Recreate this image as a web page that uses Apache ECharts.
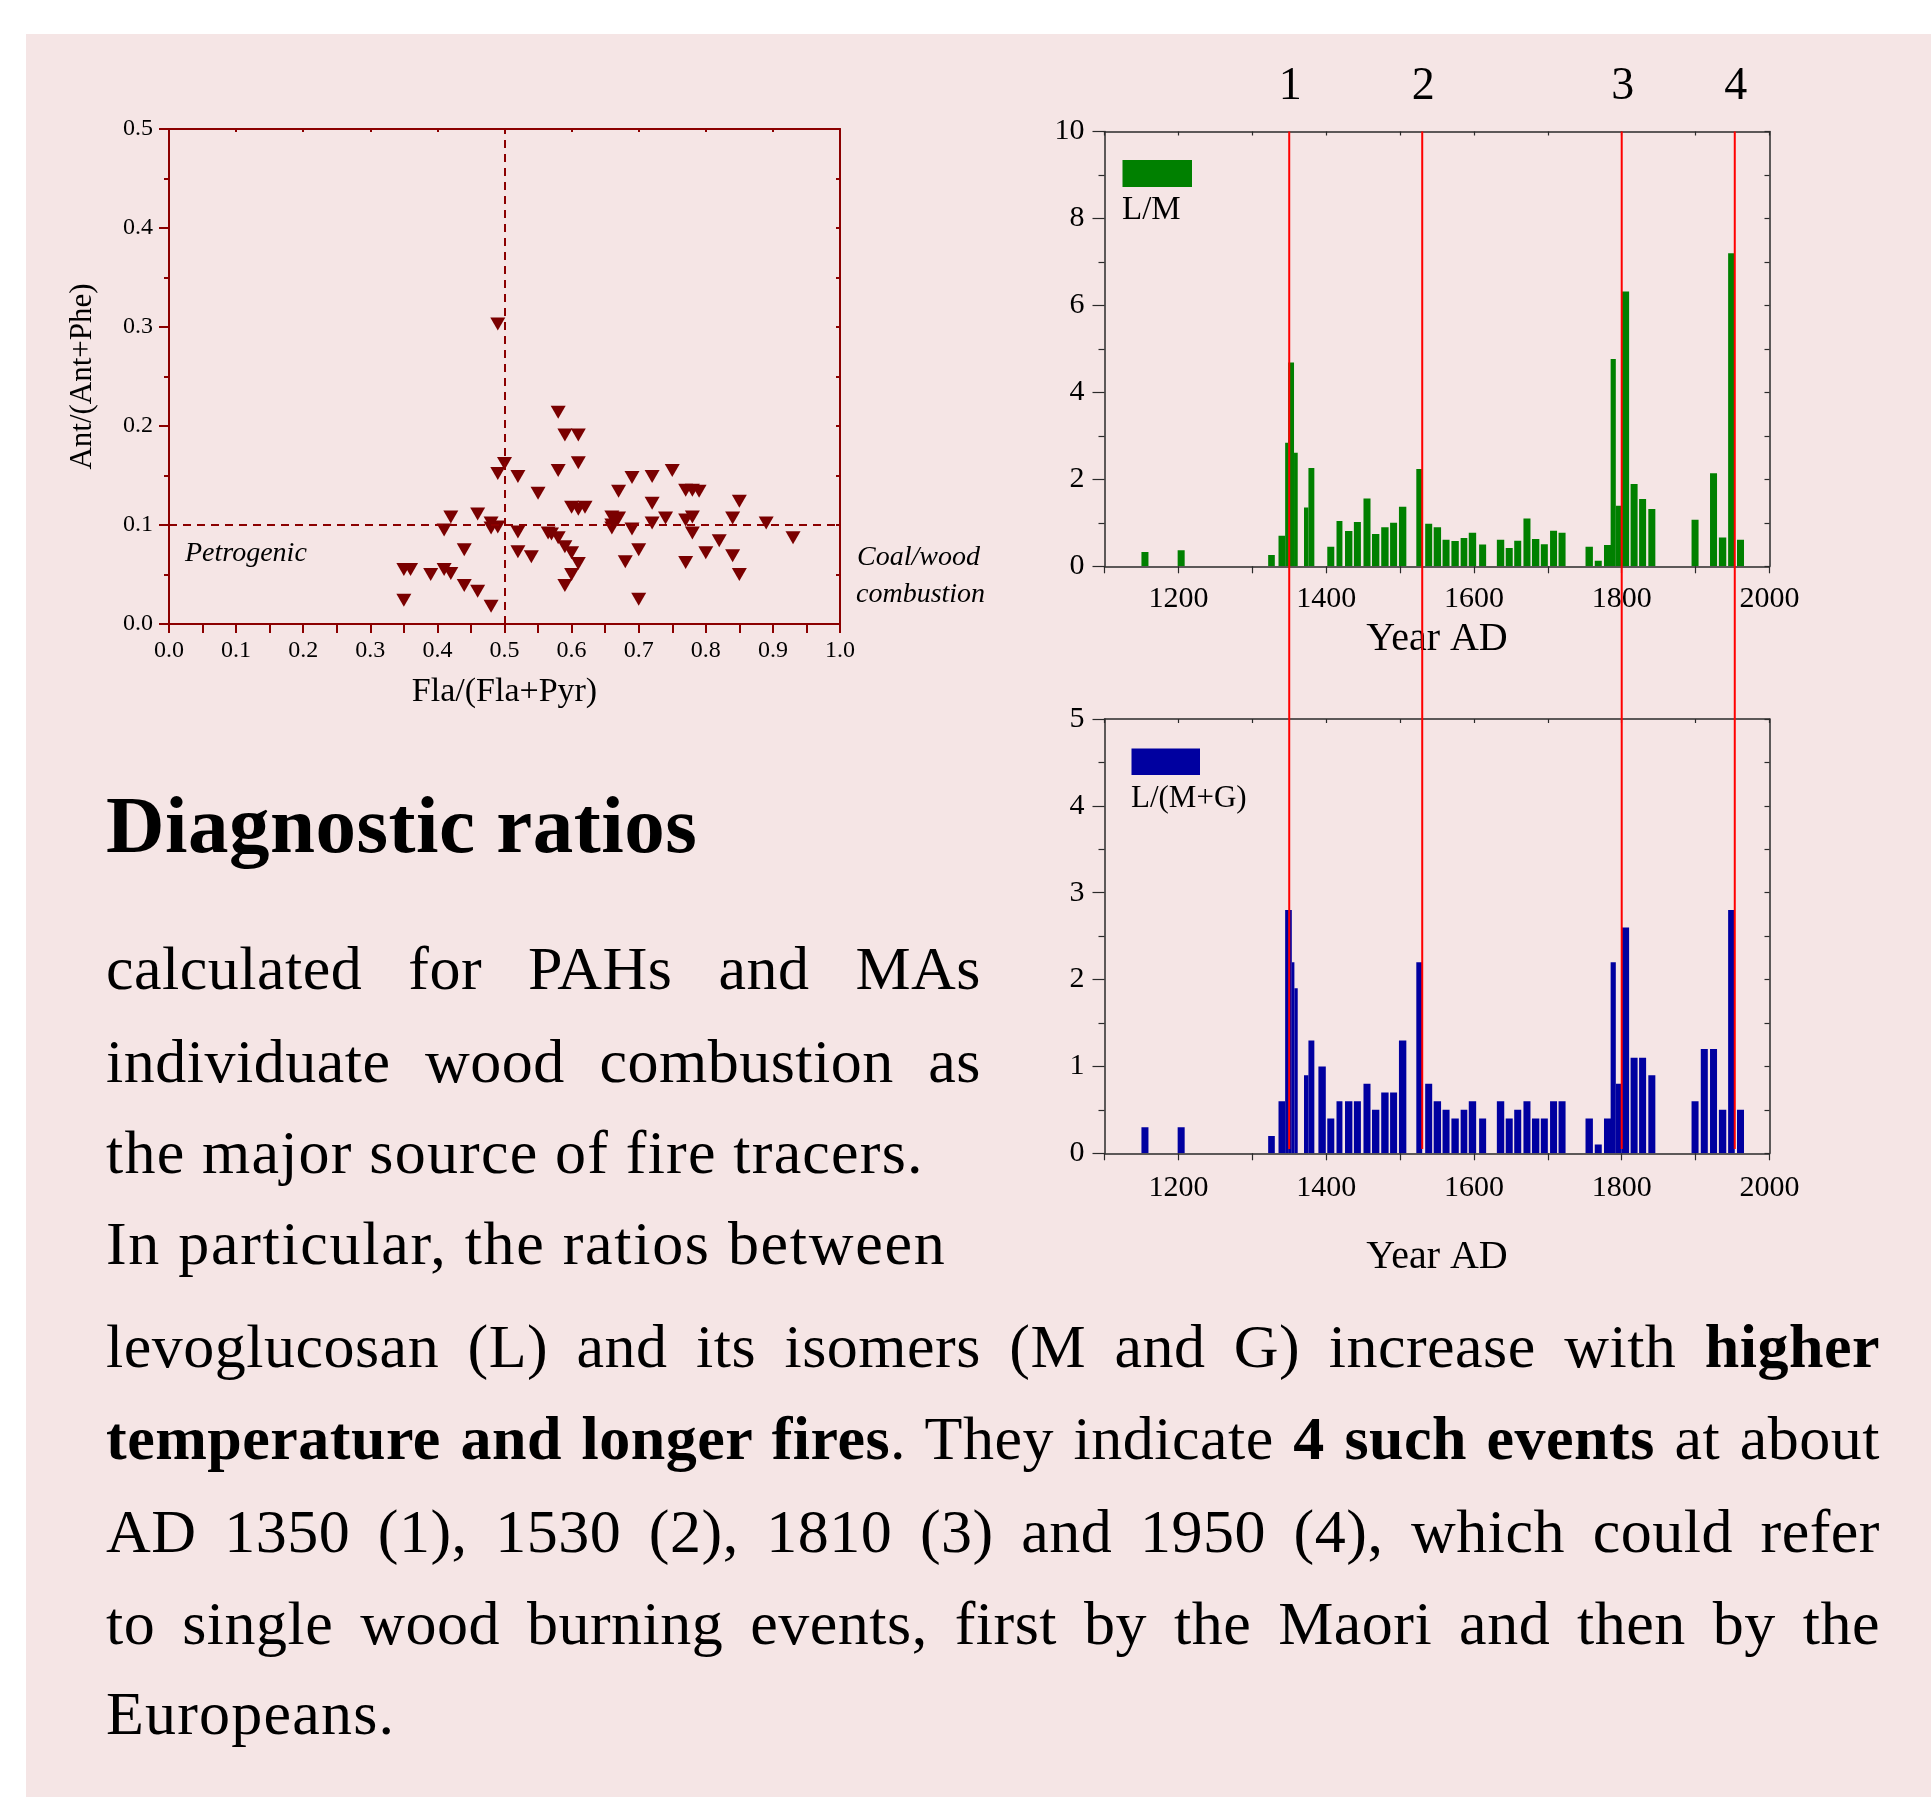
<!DOCTYPE html>
<html>
<head>
<meta charset="utf-8">
<script src="https://cdn.jsdelivr.net/npm/echarts@6/dist/echarts.min.js"></script>
<style>
  html, body { margin: 0; padding: 0; background: #ffffff; }
  #panel { position: absolute; left: 26px; top: 34px; right: 0; bottom: 0; background: #F5E5E5; }
  #chart { position: absolute; left: 0; top: 0; width: 1931px; height: 1797px; }
  .ln { position: absolute; left: 106px; font-family: 'Liberation Serif', 'Times New Roman', serif;
        font-size: 62px; line-height: 62px; color: #000; white-space: nowrap; letter-spacing: 0.5px; }
  .j { text-align: justify; text-align-last: justify; white-space: normal; }
  .free { letter-spacing: 1.2px; }
  .free2 { letter-spacing: 1.7px; }
  .h { font-size: 81px; line-height: 81px; font-weight: bold; letter-spacing: 0.5px; }
</style>
</head>
<body>
<div id="panel"></div>
<div id="chart"></div>
<div class="ln h" style="top:785px;">Diagnostic ratios</div>
<div class="ln j" style="top:937px;width:875px;">calculated for PAHs and MAs</div>
<div class="ln j" style="top:1030px;width:875px;">individuate wood combustion as</div>
<div class="ln free" style="top:1121px;">the major source of fire tracers.</div>
<div class="ln free2" style="top:1212px;">In particular, the ratios between</div>
<div class="ln j" style="top:1315px;width:1774px;">levoglucosan (L) and its isomers (M and G) increase with <b>higher</b></div>
<div class="ln j" style="top:1407px;width:1774px;"><b>temperature and longer fires</b>. They indicate <b>4 such events</b> at about</div>
<div class="ln j" style="top:1500px;width:1774px;">AD 1350 (1), 1530 (2), 1810 (3) and 1950 (4), which could refer</div>
<div class="ln j" style="top:1592px;width:1774px;">to single wood burning events, first by the Maori and then by the</div>
<div class="ln free" style="top:1682px;">Europeans.</div>
<script>
// ---------------- data ----------------
const scatterX = [0.58,0.59,0.61,0.61,0.58,0.50,0.49,0.52,0.55,0.67,0.69,0.72,0.75,0.77,0.78,0.79,0.72,0.85,
  0.60,0.61,0.62,0.66,0.67,0.66,0.66,0.69,0.72,0.74,0.77,0.78,0.78,0.84,0.89,0.93,0.82,0.80,0.84,0.85,0.77,
  0.70,0.68,0.70,0.42,0.41,0.46,0.48,0.48,0.49,0.52,0.44,0.52,0.54,0.57,0.58,0.59,0.60,0.61,0.60,0.59,0.35,
  0.36,0.39,0.41,0.42,0.44,0.46,0.48,0.35,0.49,0.665,0.565];
const scatterY = [0.214,0.191,0.191,0.163,0.155,0.162,0.152,0.149,0.132,0.134,0.148,0.149,0.155,0.135,0.135,
  0.134,0.122,0.124,0.118,0.116,0.118,0.108,0.107,0.100,0.097,0.096,0.102,0.107,0.105,0.108,0.092,0.107,0.102,
  0.087,0.084,0.072,0.069,0.050,0.062,0.075,0.063,0.025,0.108,0.095,0.111,0.102,0.097,0.098,0.093,0.075,0.073,
  0.068,0.091,0.087,0.078,0.072,0.061,0.050,0.039,0.055,0.055,0.050,0.055,0.051,0.039,0.033,0.018,0.024,0.303,
  0.104,0.092];

// L/M : sample age intervals (year AD) and ratio
const lmFrom = [1150,1199,1321.5,1335.5,1344.5,1348.5,1356.5,1370,1376,1401.5,1414,1425.5,1437.5,1450.5,1462,
  1474.5,1486.5,1498.5,1522,1534,1545.5,1557.5,1569.5,1582,1593,1607,1631,1643,1654.5,1667,1678.5,1690.5,1703,
  1714.5,1751,1763.5,1776,1785,1792,1800,1812,1823.5,1836,1894.5,1919.5,1931.5,1944,1956];
const lmTo = [1159.5,1208.5,1330.5,1344.5,1348.5,1356.5,1361.5,1376,1384,1411,1422,1435.5,1447,1460,1472,
  1484.5,1496,1508.5,1530,1543.5,1555.5,1567,1579.5,1591,1603,1616.5,1641,1652.5,1664,1676.5,1688.5,1700,1712.5,
  1724,1761,1773,1785.5,1792,1800,1810,1821.5,1833,1845.5,1904,1929,1941.5,1953,1965.5];
const lmValue = [0.33,0.37,0.26,0.70,2.84,4.69,2.61,1.35,2.26,0.45,1.04,0.81,1.02,1.56,0.74,0.90,1.00,1.37,
  2.24,0.98,0.90,0.61,0.58,0.65,0.77,0.50,0.61,0.42,0.59,1.10,0.63,0.51,0.82,0.77,0.45,0.13,0.49,4.77,1.39,
  6.32,1.89,1.55,1.32,1.07,2.14,0.66,7.20,0.61];

// L/(M+G)
const lmgFrom = [1150,1199,1321.5,1335.5,1344.5,1348.5,1353.5,1357,1370,1376,1389.5,1401.5,1414,1425.5,1437.5,
  1450.5,1462,1474.5,1486.5,1498.5,1522,1534,1545.5,1557.5,1569.5,1582,1593,1607,1631,1643,1654.5,1667,1678.5,
  1690.5,1703,1714.5,1751,1763.5,1776,1785,1792,1800,1812,1823.5,1836,1894.5,1907,1919.5,1931.5,1944,1956];
const lmgTo = [1159.5,1208.5,1330.5,1344.5,1348.5,1353.5,1357,1361.5,1376,1384,1399.5,1411,1422,1435.5,1447,
  1460,1472,1484.5,1496,1508.5,1530,1543.5,1555.5,1567,1579.5,1591,1603,1616.5,1641,1652.5,1664,1676.5,1688.5,
  1700,1712.5,1724,1761,1773,1785.5,1792,1800,1810,1821.5,1833,1845.5,1904,1916.5,1929,1941.5,1953,1965.5];
const lmgValue = [0.30,0.30,0.20,0.60,2.80,2.80,2.20,1.90,0.90,1.30,1.00,0.40,0.60,0.60,0.60,0.80,0.50,0.70,
  0.70,1.30,2.20,0.80,0.60,0.50,0.40,0.50,0.60,0.40,0.60,0.40,0.50,0.60,0.40,0.40,0.60,0.60,0.40,0.10,0.40,
  2.20,0.80,2.60,1.10,1.10,0.90,0.60,1.20,1.20,0.50,2.80,0.50];

const eventYears = [1350, 1530, 1800, 1953];
const eventLabels = ['1', '2', '3', '4'];

const lmTicksMax = 10, lmgTicksMax = 5;

// ---------------- chart ----------------
const FONT = "'Liberation Serif', 'Times New Roman', serif";
const DR = '#8B0000';
const PT = '#7A0000';
const AX = '#2a2a2a';
const chart = echarts.init(document.getElementById('chart'), null, { renderer: 'canvas' });

function zip3(a, b, c) { return a.map((v, i) => [v, b[i], c[i]]); }

function barItem(color) {
  return function (params, api) {
    const p0 = api.coord([api.value(0), api.value(2)]);
    const p1 = api.coord([api.value(1), 0]);
    return {
      type: 'rect',
      shape: { x: p0[0], y: p0[1], width: p1[0] - p0[0], height: p1[1] - p0[1] },
      style: { fill: color }
    };
  };
}

const labelStyle = { fontFamily: FONT, color: '#000' };

function yearAxis(grid, margin, nameGap) {
  return {
    gridIndex: grid, type: 'value', min: 1100, max: 2000, interval: 100, position: 'bottom',
    axisLine: { onZero: false, lineStyle: { color: AX, width: 1.5 } },
    axisTick: { length: 7, lineStyle: { color: AX, width: 1.2 } },
    axisLabel: Object.assign({ fontSize: 30, margin: margin, formatter: v => (v % 200 === 0 ? String(v) : '') }, labelStyle),
    splitLine: { show: false },
    name: 'Year AD', nameLocation: 'middle', nameGap: nameGap,
    nameTextStyle: { fontFamily: FONT, fontSize: 40, color: '#000' }
  };
}
function yearAxisTop(grid) {
  return {
    gridIndex: grid, type: 'value', min: 1100, max: 2000, interval: 100, position: 'top',
    axisLine: { onZero: false, lineStyle: { color: AX, width: 1.5 } },
    axisTick: { inside: true, length: 4, lineStyle: { color: AX, width: 1.2 } },
    axisLabel: { show: false }, splitLine: { show: false }
  };
}

const option = {
  animation: false,
  backgroundColor: 'transparent',
  grid: [
    { left: 169, top: 129, width: 671, height: 495, outerBoundsMode: 'none' },
    { left: 1104.5, top: 131.5, width: 665, height: 434.8, outerBoundsMode: 'none' },
    { left: 1104.5, top: 719, width: 665, height: 434.3, outerBoundsMode: 'none' },
    { left: 1104.5, top: 131.5, width: 665, height: 1017.5, outerBoundsMode: 'none' }
  ],
  xAxis: [
    {
      gridIndex: 0, type: 'value', min: 0, max: 1, interval: 0.1, position: 'bottom',
      axisLine: { onZero: false, lineStyle: { color: DR, width: 2 } },
      axisTick: { length: 9, lineStyle: { color: DR, width: 2 } },
      minorTick: { show: true, splitNumber: 2, length: 9, lineStyle: { color: DR, width: 2 } },
      axisLabel: Object.assign({ fontSize: 24, margin: 15, formatter: v => v.toFixed(1) }, labelStyle),
      splitLine: { show: false }, minorSplitLine: { show: false },
      name: 'Fla/(Fla+Pyr)', nameLocation: 'middle', nameGap: 51,
      nameTextStyle: { fontFamily: FONT, fontSize: 34, color: '#000' }
    },
    {
      gridIndex: 0, type: 'value', min: 0, max: 1, interval: 0.1, position: 'top',
      axisLine: { onZero: false, lineStyle: { color: DR, width: 2 } },
      axisTick: { inside: true, length: 3, lineStyle: { color: DR, width: 2 } },
      axisLabel: { show: false }, splitLine: { show: false }
    },
    yearAxis(1, 18, 53),
    yearAxisTop(1),
    yearAxis(2, 20, 84),
    yearAxisTop(2),
    { gridIndex: 3, type: 'value', min: 1100, max: 2000, show: false }
  ],
  yAxis: [
    {
      gridIndex: 0, type: 'value', min: 0, max: 0.5, interval: 0.1, position: 'left',
      axisLine: { onZero: false, lineStyle: { color: DR, width: 2 } },
      axisTick: { length: 10, lineStyle: { color: DR, width: 2 } },
      minorTick: { show: true, splitNumber: 2, length: 5, lineStyle: { color: DR, width: 2 } },
      axisLabel: Object.assign({ fontSize: 24, margin: 16, formatter: v => v.toFixed(1) }, labelStyle),
      splitLine: { show: false }, minorSplitLine: { show: false },
      name: 'Ant/(Ant+Phe)', nameLocation: 'middle', nameGap: 71, nameRotate: 90,
      nameTextStyle: { fontFamily: FONT, fontSize: 31, color: '#000' }
    },
    {
      gridIndex: 0, type: 'value', min: 0, max: 0.5, interval: 0.05, position: 'right',
      axisLine: { onZero: false, lineStyle: { color: DR, width: 2 } },
      axisTick: { inside: true, length: 4, lineStyle: { color: DR, width: 2 } },
      axisLabel: { show: false }, splitLine: { show: false }
    },
    {
      gridIndex: 1, type: 'value', min: 0, max: lmTicksMax, interval: 2, position: 'left',
      axisLine: { onZero: false, lineStyle: { color: AX, width: 1.5 } },
      axisTick: { length: 12, lineStyle: { color: AX, width: 1.2 } },
      minorTick: { show: true, splitNumber: 2, length: 6, lineStyle: { color: AX, width: 1.2 } },
      axisLabel: Object.assign({ fontSize: 30, margin: 20 }, labelStyle),
      splitLine: { show: false }, minorSplitLine: { show: false }
    },
    {
      gridIndex: 1, type: 'value', min: 0, max: lmTicksMax, interval: 1, position: 'right',
      axisLine: { onZero: false, lineStyle: { color: AX, width: 1.5 } },
      axisTick: { inside: true, length: 5, lineStyle: { color: AX, width: 1.2 } },
      axisLabel: { show: false }, splitLine: { show: false }
    },
    {
      gridIndex: 2, type: 'value', min: 0, max: lmgTicksMax, interval: 1, position: 'left',
      axisLine: { onZero: false, lineStyle: { color: AX, width: 1.5 } },
      axisTick: { length: 12, lineStyle: { color: AX, width: 1.2 } },
      minorTick: { show: true, splitNumber: 2, length: 6, lineStyle: { color: AX, width: 1.2 } },
      axisLabel: Object.assign({ fontSize: 30, margin: 20 }, labelStyle),
      splitLine: { show: false }, minorSplitLine: { show: false }
    },
    {
      gridIndex: 2, type: 'value', min: 0, max: lmgTicksMax, interval: 0.5, position: 'right',
      axisLine: { onZero: false, lineStyle: { color: AX, width: 1.5 } },
      axisTick: { inside: true, length: 5, lineStyle: { color: AX, width: 1.2 } },
      axisLabel: { show: false }, splitLine: { show: false }
    },
    { gridIndex: 3, type: 'value', min: 0, max: 1, show: false }
  ],
  series: [
    {
      name: 'Diagnostic ratio', type: 'scatter', xAxisIndex: 0, yAxisIndex: 0,
      data: scatterX.map((x, i) => [x, scatterY[i]]),
      symbol: 'triangle', symbolRotate: 180, symbolSize: [15, 13],
      itemStyle: { color: PT, opacity: 1 },
      markLine: {
        silent: true, symbol: 'none', animation: false,
        label: { show: false },
        lineStyle: { color: DR, width: 2, type: [8, 6] },
        data: [{ xAxis: 0.5 }, { yAxis: 0.1 }]
      },
      z: 3
    },
    {
      name: 'L/M', type: 'custom', xAxisIndex: 2, yAxisIndex: 2,
      data: zip3(lmFrom, lmTo, lmValue), encode: { x: [0, 1], y: 2 },
      renderItem: barItem('#008000'), clip: true, z: 2
    },
    {
      name: 'L/(M+G)', type: 'custom', xAxisIndex: 4, yAxisIndex: 4,
      data: zip3(lmgFrom, lmgTo, lmgValue), encode: { x: [0, 1], y: 2 },
      renderItem: barItem('#0000A0'), clip: true, z: 2
    },
    {
      name: 'Events', type: 'custom', xAxisIndex: 6, yAxisIndex: 6,
      data: eventYears.map(y => [y, 1]), encode: { x: 0, y: 1 },
      clip: false, z: 10, silent: true,
      renderItem: function (params, api) {
        const top = api.coord([api.value(0), 1]);
        const bot = api.coord([api.value(0), 0]);
        return {
          type: 'group',
          children: [
            { type: 'line', shape: { x1: top[0], y1: top[1], x2: bot[0], y2: bot[1] },
              style: { stroke: '#FF0000', lineWidth: 2 } },
            { type: 'text', x: top[0] + 1, y: top[1] - 45,
              style: { text: eventLabels[params.dataIndex], fontFamily: FONT, fontSize: 46,
                       fill: '#000', align: 'center', verticalAlign: 'middle' } }
          ]
        };
      }
    }
  ],
  graphic: {
    elements: [
      { type: 'text', x: 185, y: 553.5, z: 50,
        style: { text: 'Petrogenic', fontFamily: FONT, fontStyle: 'italic', fontSize: 28, fill: '#000', verticalAlign: 'middle' } },
      { type: 'text', x: 857, y: 557.5, z: 50,
        style: { text: 'Coal/wood', fontFamily: FONT, fontStyle: 'italic', fontSize: 28, fill: '#000', verticalAlign: 'middle' } },
      { type: 'text', x: 856, y: 594.5, z: 50,
        style: { text: 'combustion', fontFamily: FONT, fontStyle: 'italic', fontSize: 28, fill: '#000', verticalAlign: 'middle' } },
      { type: 'rect', z: 50, shape: { x: 1122.5, y: 160, width: 69.5, height: 27 }, style: { fill: '#008000' } },
      { type: 'text', x: 1122, y: 210, z: 50,
        style: { text: 'L/M', fontFamily: FONT, fontSize: 33, fill: '#000', verticalAlign: 'middle' } },
      { type: 'rect', z: 50, shape: { x: 1131.5, y: 748.5, width: 68.5, height: 26.5 }, style: { fill: '#0000A0' } },
      { type: 'text', x: 1131, y: 799, z: 50,
        style: { text: 'L/(M+G)', fontFamily: FONT, fontSize: 31, fill: '#000', verticalAlign: 'middle' } }
    ]
  }
};
chart.setOption(option);
</script>
</body>
</html>
